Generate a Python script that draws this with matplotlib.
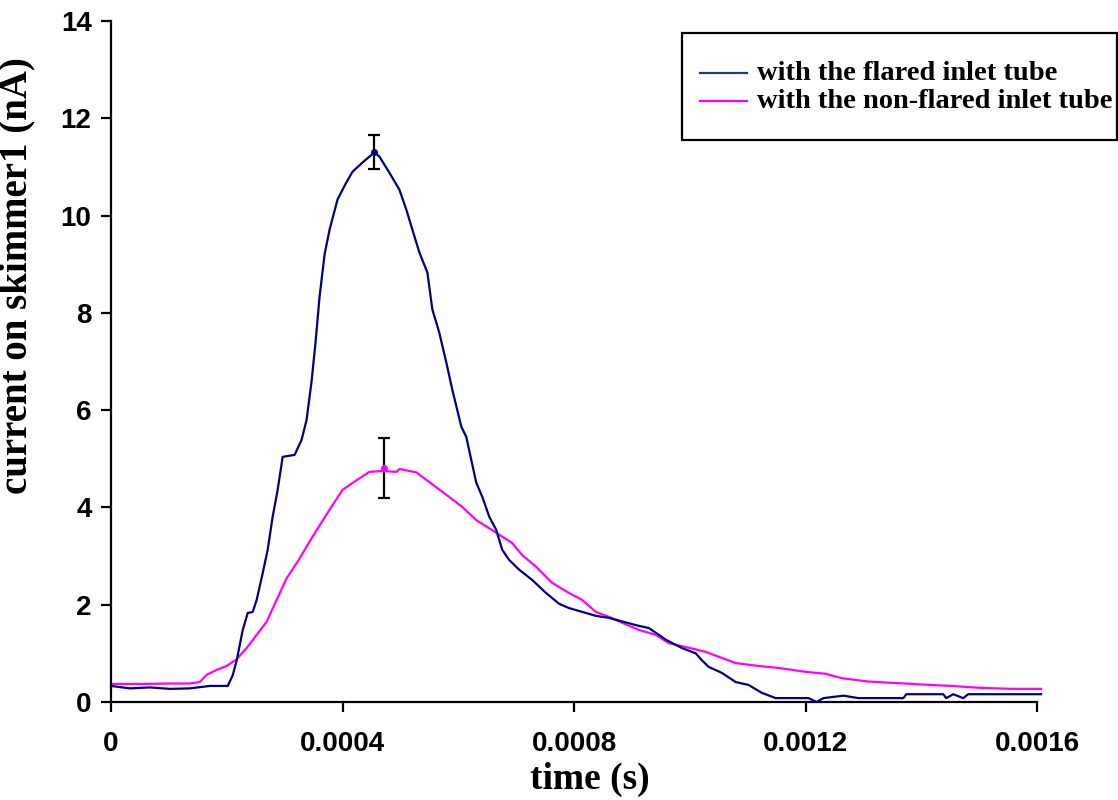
import matplotlib
matplotlib.use("Agg")
import matplotlib.pyplot as plt
from matplotlib.patches import Rectangle

# ---- data (time in s, current in nA) ----
t_flared = [0.0, 0.0000328, 0.0000672, 0.0001017, 0.0001362, 0.0001707, 0.0002017,
            0.0002103, 0.0002172, 0.0002276, 0.0002362, 0.0002448, 0.0002517, 0.0002621,
            0.0002707, 0.0002793, 0.0002879, 0.0002966, 0.0003172, 0.0003293, 0.0003379,
            0.0003466, 0.0003534, 0.0003603, 0.0003690, 0.0003776, 0.0003914, 0.0004052,
            0.0004172, 0.0004345, 0.0004552, 0.0004638, 0.0004810, 0.0004983, 0.0005103,
            0.0005207, 0.0005328, 0.0005466, 0.0005552, 0.0005672, 0.0005793, 0.0005897,
            0.0006052, 0.0006138, 0.0006310, 0.0006414, 0.0006534, 0.0006655, 0.0006759,
            0.0006879, 0.0007052, 0.0007276, 0.0007517, 0.0007741, 0.0007914, 0.0008207,
            0.0008379, 0.0008603, 0.0009069, 0.0009293, 0.0009466, 0.0009586, 0.0009862,
            0.0010103, 0.0010207, 0.0010328, 0.0010552, 0.0010793, 0.0011017, 0.0011241,
            0.0011483, 0.0012052, 0.0012190, 0.0012310, 0.0012655, 0.0012914, 0.0013690,
            0.0013741, 0.0014379, 0.0014431, 0.0014552, 0.0014724, 0.0014810, 0.0016069]
i_flared = [0.33, 0.28, 0.30, 0.27, 0.28, 0.33, 0.33,
            0.55, 0.86, 1.48, 1.83, 1.85, 2.10, 2.65,
            3.13, 3.81, 4.36, 5.04, 5.08, 5.39, 5.80,
            6.60, 7.40, 8.33, 9.20, 9.71, 10.33, 10.65,
            10.90, 11.09, 11.30, 11.21, 10.88, 10.53, 10.12,
            9.71, 9.24, 8.83, 8.07, 7.59, 6.98, 6.42,
            5.66, 5.45, 4.51, 4.22, 3.81, 3.54, 3.13,
            2.92, 2.72, 2.51, 2.24, 2.02, 1.93, 1.83,
            1.77, 1.73, 1.58, 1.52, 1.38, 1.28, 1.11,
            1.00, 0.86, 0.72, 0.60, 0.41, 0.35, 0.19,
            0.08, 0.08, 0.00, 0.08, 0.13, 0.08, 0.08,
            0.16, 0.16, 0.08, 0.16, 0.08, 0.16, 0.16]

t_nonflared = [0.0, 0.0000500, 0.0001017, 0.0001362, 0.0001534, 0.0001655, 0.0001828,
               0.0002000, 0.0002172, 0.0002345, 0.0002517, 0.0002690, 0.0002862, 0.0003034,
               0.0003259, 0.0003483, 0.0003776, 0.0004000, 0.0004207, 0.0004466, 0.0004707,
               0.0004931, 0.0004983, 0.0005276, 0.0005500, 0.0005793, 0.0006069, 0.0006310,
               0.0006655, 0.0006931, 0.0007103, 0.0007345, 0.0007621, 0.0007914, 0.0008138,
               0.0008379, 0.0008603, 0.0008828, 0.0009121, 0.0009414, 0.0009638, 0.0009931,
               0.0010276, 0.0010500, 0.0010793, 0.0011190, 0.0011534, 0.0012000, 0.0012345,
               0.0012621, 0.0013086, 0.0014172, 0.0014517, 0.0015034, 0.0015552, 0.0016069]
i_nonflared = [0.37, 0.37, 0.38, 0.38, 0.41, 0.56, 0.66,
               0.74, 0.88, 1.11, 1.38, 1.65, 2.10, 2.54,
               2.95, 3.40, 3.95, 4.36, 4.53, 4.73, 4.75,
               4.73, 4.79, 4.72, 4.52, 4.26, 4.01, 3.74,
               3.48, 3.27, 3.02, 2.78, 2.45, 2.24, 2.10,
               1.85, 1.75, 1.63, 1.48, 1.38, 1.21, 1.13,
               1.03, 0.93, 0.80, 0.74, 0.70, 0.62, 0.58,
               0.49, 0.42, 0.35, 0.33, 0.29, 0.27, 0.27]

# error bars at the peaks
err_t = [0.000455, 0.000471]
err_v = [11.30, 4.81]
err_e = [0.35, 0.62]

labels = ["with the flared inlet tube", "with the non-flared inlet tube"]
colors = ["#000080", "#FF00FF"]
legend_colors = ["#1F3F7A", "#FF00FF"]
xticks = [0, 0.0004, 0.0008, 0.0012, 0.0016]
xticklabels = ["0", "0.0004", "0.0008", "0.0012", "0.0016"]
yticks = [0, 2, 4, 6, 8, 10, 12, 14]

W, H = 1118, 800
fig = plt.figure(figsize=(W / 100, H / 100), dpi=100)
ax = fig.add_axes([0.0993, 0.1225, 0.8283, 0.8513])

ax.plot(t_flared, i_flared, color=colors[0], lw=1.6, clip_on=False, zorder=3)
ax.plot(t_nonflared, i_nonflared, color=colors[1], lw=1.6, clip_on=False, zorder=2)

for k in range(2):
    ax.errorbar([err_t[k]], [err_v[k]], yerr=[err_e[k]], fmt='o', ms=4,
                color=colors[k], mec=colors[k], ecolor='black', elinewidth=1.6,
                capsize=4, capthick=1.6, zorder=4)

ax.set_xlim(0, 0.0016)
ax.set_ylim(0, 14)
ax.set_xticks(xticks)
ax.set_xticklabels(xticklabels)
ax.set_yticks(yticks)

for s in ["top", "right"]:
    ax.spines[s].set_visible(False)
for s in ["left", "bottom"]:
    ax.spines[s].set_linewidth(1.6)

ax.tick_params(axis='x', direction='out', length=7, width=1.6, pad=14)
ax.tick_params(axis='y', direction='out', length=7, width=1.6, pad=7)
for lab in ax.get_xticklabels() + ax.get_yticklabels():
    lab.set_family("Liberation Sans")
    lab.set_fontweight("bold")
    lab.set_fontsize(20)

ax.set_xlabel("time (s)", family="Liberation Serif", fontweight="bold", fontsize=27, labelpad=0)
ax.xaxis.set_label_coords(0.517, -0.088)
ax.set_ylabel("current on skimmer1 (nA)", family="Liberation Serif", fontweight="bold", fontsize=28)
ax.yaxis.set_label_coords(-0.082, 0.626)

# legend: frame and entries in figure pixel coordinates
frame = Rectangle((682 / W, 1 - 140 / H), (1117 - 682) / W, (140 - 33) / H,
                  transform=fig.transFigure, facecolor="white", edgecolor="black",
                  lw=1.6, zorder=5)
fig.add_artist(frame)
rows_y = [73, 101]
for k in range(2):
    yy = 1 - rows_y[k] / H
    fig.add_artist(plt.Line2D([700 / W, 747 / W], [yy, yy], transform=fig.transFigure,
                              color=legend_colors[k], lw=1.6, zorder=6))
    fig.text(757 / W, yy, labels[k], family="Liberation Serif", fontweight="bold",
             fontsize=20.5, va="center", ha="left", zorder=6)

fig.savefig("out.png", dpi=100)
